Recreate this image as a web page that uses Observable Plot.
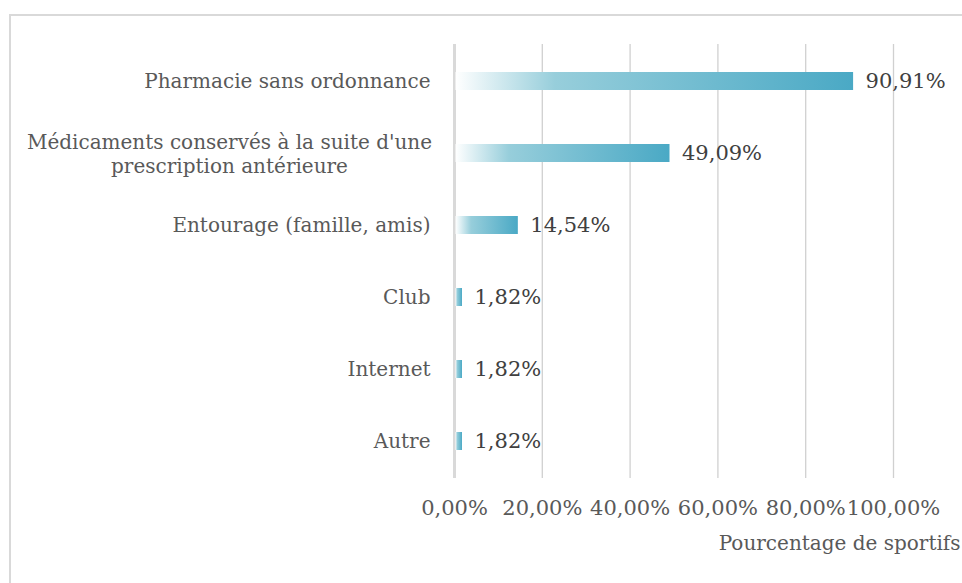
<!DOCTYPE html>
<html><head><meta charset="utf-8">
<script src="https://cdn.jsdelivr.net/npm/d3@7"></script>
<script src="https://cdn.jsdelivr.net/npm/@observablehq/plot@0.6"></script>
<style>
body{margin:0;background:#fff;}
#wrap{position:relative;width:962px;height:583px;overflow:hidden;}
#border{position:absolute;left:9px;top:14px;width:1000px;height:1000px;border-left:2px solid #d9d9d9;border-top:2px solid #d9d9d9;pointer-events:none;}
</style></head><body><div id="wrap"><div id="border"></div></div>
<script>
const categories = ["Pharmacie sans ordonnance", "Médicaments conservés à la suite d'une\nprescription antérieure", "Entourage (famille, amis)", "Club", "Internet", "Autre"];
const values = [0.9091, 0.4909, 0.1454, 0.0182, 0.0182, 0.0182];
const valueLabels = ["90,91%", "49,09%", "14,54%", "1,82%", "1,82%", "1,82%"];
const xTicks = [0, 0.2, 0.4, 0.6, 0.8, 1];
const axisTitle = "Pourcentage de sportifs";

const data = categories.map((c, i) => ({category: c, value: values[i], label: valueLabels[i], multi: c.includes("\n")}));
const fmt = d => (d * 100).toFixed(2).replace(".", ",") + "%";
const FONT = 20;
const NUMFONT = 21;

const plot = Plot.plot({
  width: 962, height: 583,
  marginLeft: 454, marginRight: 69, marginTop: 44, marginBottom: 105,
  style: {fontFamily: "DejaVu Serif", fontSize: FONT + "px", color: "#595959", background: "transparent"},
  x: {domain: [0, 1], ticks: xTicks, tickFormat: fmt, label: null, axis: null},
  y: {domain: categories, paddingInner: 0.75, paddingOuter: 0.375, label: null, axis: null},
  marks: [
    Plot.ruleX(xTicks.slice(1), {stroke: "#d0d0d0", strokeWidth: 1.3}),
    Plot.ruleX([0], {stroke: "#d9d9d9", strokeWidth: 3}),
    Plot.axisX({ticks: xTicks, tickFormat: fmt, tickSize: 0, tickPadding: 22, fontSize: NUMFONT, label: null, fill: "#595959"}),
    Plot.barX(data, {x: "value", y: "category", fill: "url(#barGrad)", insetLeft: 1.5}),
    Plot.text(data, {x: "value", y: "category", text: "label", textAnchor: "start", dx: 12, fill: "#404040", fontSize: NUMFONT}),
    Plot.text(data.filter(d => !d.multi), {x: 0, y: "category", text: "category", textAnchor: "end", dx: -24, fontSize: FONT}),
    Plot.text(data.filter(d => d.multi), {x: 0, y: "category", text: "category", textAnchor: "middle", dx: -225, lineHeight: 1.2, fontSize: FONT}),
    Plot.text([axisTitle], {frameAnchor: "bottom-right", dx: 67, dy: 71, textAnchor: "end", fontSize: FONT})
  ]
});

const defs = d3.select(plot).insert("defs", ":first-child");
const grad = defs.append("linearGradient").attr("id", "barGrad").attr("x1", "0").attr("x2", "1").attr("y1", "0").attr("y2", "0");
[[0, "#ffffff"], [0.25, "#97cedb"], [1, "#4aa9c5"]].forEach(([o, c]) => grad.append("stop").attr("offset", o).attr("stop-color", c));

document.getElementById("wrap").appendChild(plot);
</script>
</body></html>
